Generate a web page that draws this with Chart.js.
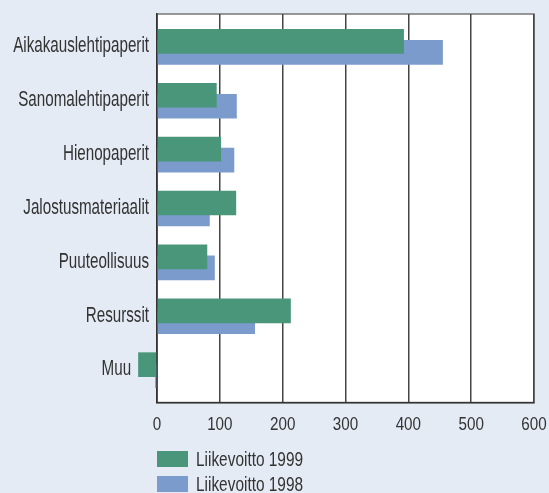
<!DOCTYPE html>
<html>
<head>
<meta charset="utf-8">
<script src="https://cdn.jsdelivr.net/npm/chart.js@4/dist/chart.umd.min.js"></script>
<style>
  body { margin: 0; background: #e5ebf4; }
  #wrap { position: relative; width: 549px; height: 493px; background: #e5ebf4; }
  #legend { position: absolute; left: 157px; top: 451px; font-family: "Liberation Sans", Arial, sans-serif; font-size: 19.5px; color: #333; }
  .row { display: flex; align-items: center; height: 16px; margin-bottom: 9px; white-space: nowrap; }
  .box { width: 31px; height: 16px; margin-right: 8px; flex: none; }
  .txt { display: inline-block; transform: scaleX(0.79); transform-origin: left center; }
</style>
</head>
<body>
<div id="wrap">
  <canvas id="profitChart" width="549" height="493"></canvas>
  <div id="legend"></div>
</div>
<script>
var categories = ['Aikakauslehtipaperit', 'Sanomalehtipaperit', 'Hienopaperit', 'Jalostusmateriaalit', 'Puuteollisuus', 'Resurssit', 'Muu'];
var profit1999 = [393, 95, 102, 126, 80, 213, -30];
var profit1998 = [455, 127, 123, 84, 92, 156, -3];
var seriesNames = ['Liikevoitto 1999', 'Liikevoitto 1998'];
var seriesColors = ['#4a967a', '#7a9bcc'];
var xTicks = [0, 100, 200, 300, 400, 500, 600];

var textColor = '#333';

function toPoints(values) {
    return values.map(function (v, i) { return { x: v, y: i }; });
}

// white plot area with a thin frame, drawn under the grid
var plotFrame = {
    id: 'plotFrame',
    beforeDraw: function (chart) {
        var a = chart.chartArea, c = chart.ctx;
        c.save();
        c.fillStyle = '#ffffff';
        c.fillRect(a.left, a.top, a.right - a.left, a.bottom - a.top);
        c.strokeStyle = '#777';
        c.lineWidth = 1.5;
        c.strokeRect(a.left, a.top, a.right - a.left, a.bottom - a.top);
        c.restore();
    }
};

// condensed tick labels (no condensed font installed, so squeeze the text)
function squeezed(c, text, x, y, sx) {
    c.save();
    c.translate(x, y);
    c.scale(sx, 1);
    c.fillText(text, 0, 0);
    c.restore();
}

var axisLabels = {
    id: 'axisLabels',
    afterDraw: function (chart) {
        var c = chart.ctx, xs = chart.scales.x, ys = chart.scales.y;
        c.save();
        c.fillStyle = textColor;
        c.textBaseline = 'alphabetic';

        c.font = '22px "Liberation Sans", Arial, sans-serif';
        c.textAlign = 'right';
        categories.forEach(function (name, i) {
            var low = Math.min(profit1999[i], profit1998[i], 0);
            var right = Math.min(xs.left - 8, xs.getPixelForValue(low) - 7);
            squeezed(c, name, right, ys.getPixelForValue(i) + 5.3, 0.69);
        });

        c.font = '19px "Liberation Sans", Arial, sans-serif';
        c.textAlign = 'center';
        xTicks.forEach(function (v) {
            squeezed(c, String(v), xs.getPixelForValue(v), xs.top + 27.5, 0.8);
        });
        c.restore();
    }
};

var ctx = document.getElementById('profitChart').getContext('2d');
var profitChart = new Chart(ctx, {
    type: 'bar',
    data: {
        datasets: [{
            label: seriesNames[0],
            data: toPoints(profit1999),
            backgroundColor: seriesColors[0],
            clip: false
        }, {
            label: seriesNames[1],
            data: toPoints(profit1998),
            backgroundColor: seriesColors[1],
            clip: false
        }]
    },
    options: {
        indexAxis: 'y',
        responsive: false,
        animation: false,
        categoryPercentage: 0.408,
        barPercentage: 2.245,
        layout: { padding: { left: 0, top: 14, right: 15, bottom: 60.5 } },
        plugins: {
            legend: { display: false },
            tooltip: { enabled: false }
        },
        scales: {
            x: {
                type: 'linear',
                min: 0,
                max: 600,
                afterFit: function (s) { s.height = 30; },
                afterBuildTicks: function (s) {
                    s.ticks = xTicks.map(function (v) { return { value: v }; });
                },
                grid: { color: '#444', lineWidth: 1.5, drawTicks: false },
                border: { color: '#333', width: 1.5 },
                ticks: { display: false }
            },
            y: {
                type: 'linear',
                offset: false,
                min: -0.61,
                max: 6.6,
                reverse: true,
                afterFit: function (s) { s.width = 157; },
                afterBuildTicks: function (s) {
                    s.ticks = categories.map(function (c, i) { return { value: i }; });
                },
                grid: { display: false, drawTicks: false },
                border: { color: '#333', width: 1.5 },
                ticks: { display: false }
            }
        }
    },
    plugins: [plotFrame, axisLabels]
});

var legend = document.getElementById('legend');
seriesNames.forEach(function (name, i) {
    var row = document.createElement('div');
    row.className = 'row';
    row.innerHTML = '<span class="box" style="background:' + seriesColors[i] + '"></span><span class="txt">' + name + '</span>';
    legend.appendChild(row);
});
</script>
</body>
</html>
